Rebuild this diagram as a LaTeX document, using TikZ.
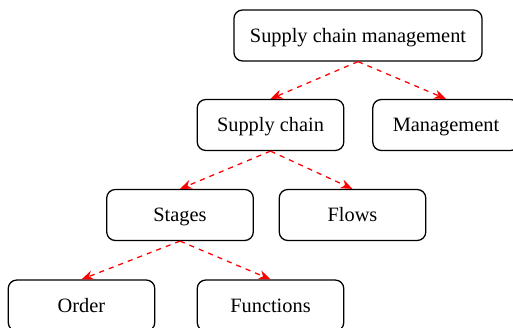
\documentclass[tikz,border=0pt]{standalone}
\usepackage{fontspec}
\setmainfont{Liberation Serif}
\usetikzlibrary{arrows.meta}

\begin{document}
\begin{tikzpicture}[x=0.589pt, y=-0.589pt,
    box/.style={draw, rounded corners=5pt, line width=0.75pt,
        minimum width=86.3pt, minimum height=30pt, inner xsep=9.4pt,
        text height=8.5pt, text depth=0.7pt,
        font=\fontsize{12}{14}\selectfont},
    link/.style={red, dashed, line width=0.75pt, -{Stealth[length=7pt, width=5.5pt]}}]

    \useasboundingbox (0, 0) rectangle (513, 328);

    % Declare the boxes
    \node[box] at (358, 35.5) (SCM) {Supply chain management};
    \node[box] at (270.5, 125) (SC) {Supply chain};
    \node[box] at (446, 125) (M) {Management};
    \node[box] at (180, 215) (S) {Stages};
    \node[box] at (352.5, 215) (F) {Flows};
    \node[box] at (81.5, 305.5) (O) {Order};
    \node[box] at (270.5, 305.5) (Fn) {Functions};

    % Declare edges
    \draw[link] (SCM.south) -- (SC.north);
    \draw[link] (SCM.south) -- (M.north);
    \draw[link] (SC.south) -- (S.north);
    \draw[link] (SC.south) -- (F.north);
    \draw[link] (S.south) -- (O.north);
    \draw[link] (S.south) -- (Fn.north);

\end{tikzpicture}
\end{document}
